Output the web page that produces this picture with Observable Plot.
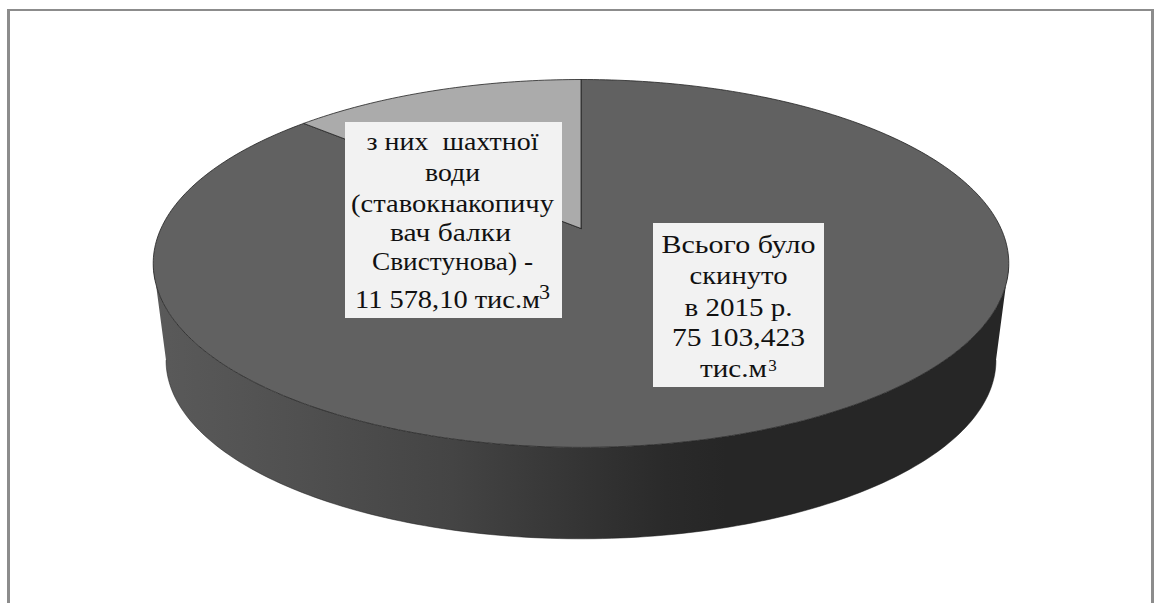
<!DOCTYPE html>
<html lang="uk">
<head>
<meta charset="utf-8">
<script src="https://cdn.jsdelivr.net/npm/d3@7"></script>
<script src="https://cdn.jsdelivr.net/npm/@observablehq/plot@0.6"></script>
<style>
  html, body { margin: 0; padding: 0; background: #fff; overflow: hidden; }
  #chart { position: relative; width: 1159px; height: 603px; }
  #chart svg { position: absolute; left: 0; top: 0; background: transparent; }
  #frame { position: absolute; left: 7px; top: 9px; width: 1147px; height: 594px;
           box-sizing: border-box; border: 3px solid #8c8c8c; border-top-width: 2px; border-bottom: 0; }
</style>
</head>
<body>
<div id="chart"><div id="frame"></div></div>
<script>
// Discharge volumes, thousand m³
const categories = ["Всього було скинуто в 2015 р.", "з них шахтної води"];
const volumes = [75103.423, 11578.10];

// Label text, line by line
const totalLines = ["Всього було", "скинуто", "в 2015 р.", "75 103,423", "тис.м"];
const mineLines = ["з них  шахтної", "води", "(ставокнакопичу", "вач балки", "Свистунова) -", "11 578,10 тис.м"];

// Chart space: one x unit and one y unit are the plan-view radius of the disc
const width = 1159, height = 603;
const unitX = 420, unitY = 177.3, originX = 580.5, originY = 228;
const tilt = 0.19, baseScale = 0.97, baseDrop = 0.5527;
const rad = Math.PI / 180;

// Perspective view of a point on the rim (angle clockwise from twelve o'clock)
const rimTop = (t) => {
  const k = 1 + tilt * Math.cos(t);
  return {x: Math.sin(t) / k, y: Math.cos(t) / k};
};
const rimBase = (t) => {
  const p = rimTop(t);
  return {x: baseScale * p.x, y: baseScale * p.y - baseDrop};
};
const sweep = (a0, a1, f) => {
  const n = Math.max(2, Math.ceil(Math.abs(a1 - a0) / rad));
  return d3.range(n + 1).map((i) => f(a0 + (a1 - a0) * i / n));
};

const arcs = d3.pie().sort(null).startAngle(0).endAngle(2 * Math.PI)(volumes);
const wedge = (a) => [{x: 0, y: 0}, ...sweep(a.startAngle, a.endAngle, rimTop), {x: 0, y: 0}];
const wedges = arcs.map(wedge);

// Visible front wall between the two silhouette points of the rim
const wallFrom = 101 * rad, wallTo = 259 * rad;
const wall = [...sweep(wallFrom, wallTo, rimTop), ...sweep(wallTo, wallFrom, rimBase)];
const wallEdge = sweep(wallFrom, wallTo, rimBase);

const sliceFill = ["#616161", "#ababab"];
const X = (px) => (px - originX) / unitX;
const Y = (px) => (originY - px) / unitY;

// Label plates and text placement (baseline, centre and set width of each line)
const plates = [
  {x1: X(345), x2: X(562), y1: Y(122), y2: Y(318)},
  {x1: X(653), x2: X(824), y1: Y(223), y2: Y(387)}
];
const mineLayout = [[149, 452, 172], [180, 452, 55], [211, 452, 203], [240, 450, 121], [269, 452, 161], [307, 447, 185]];
const totalLayout = [[252, 738, 154], [283, 738, 98], [315, 738, 108], [345, 738, 133], [376, 733, 67]];
const lineRows = (lines, layout) => lines.map((text, i) => ({
  text, x: X(layout[i][1]), y: Y(layout[i][0]), set: layout[i][2]
}));
const labelRows = [...lineRows(mineLines, mineLayout), ...lineRows(totalLines, totalLayout)];
const supers = [
  {text: "3", x: X(544), y: Y(298), size: 22},
  {text: "3", x: X(772), y: Y(370), size: 17}
];
const serif = "'Liberation Serif', 'Times New Roman', serif";

const chart = Plot.plot({
  width, height,
  margin: 0,
  style: {background: "transparent"},
  x: {axis: null, domain: [X(0), X(width)], range: [0, width]},
  y: {axis: null, domain: [Y(0), Y(height)], range: [0, height]},
  marks: [
    () => {
      const ns = "http://www.w3.org/2000/svg";
      const defs = document.createElementNS(ns, "defs");
      const grad = document.createElementNS(ns, "linearGradient");
      grad.setAttribute("id", "wallShade");
      [[0, "#5a5a5a"], [0.17, "#505050"], [0.35, "#444444"], [0.5, "#343434"],
       [0.6, "#2a2a2a"], [0.67, "#262626"], [1, "#262626"]].forEach(([o, c]) => {
        const s = document.createElementNS(ns, "stop");
        s.setAttribute("offset", o);
        s.setAttribute("stop-color", c);
        grad.appendChild(s);
      });
      defs.appendChild(grad);
      return defs;
    },
    Plot.line(wall, {x: "x", y: "y", fill: "url(#wallShade)", stroke: "none", curve: "linear"}),
    Plot.line(wallEdge, {x: "x", y: "y", stroke: "#1a1a1a", strokeWidth: 0.5, curve: "linear"}),
    wedges.map((w, i) =>
      Plot.line(w, {x: "x", y: "y", fill: sliceFill[i], stroke: "#222", strokeWidth: 0.8, curve: "linear",
                    title: () => categories[i]})),
    Plot.rect(plates, {x1: "x1", x2: "x2", y1: "y1", y2: "y2", fill: "#f2f2f2"}),
    Plot.text(labelRows, {
      x: "x", y: "y", text: "text", fontFamily: serif, fontSize: 25,
      fill: "#111", textAnchor: "middle", lineAnchor: "bottom",
      // Each line is set to its own width, glyphs stretched to fill it
      render(index, scales, values, dimensions, context, next) {
        const g = next(index, scales, values, dimensions, context);
        d3.select(g).selectAll("text").each(function (i) {
          this.setAttribute("textLength", labelRows[i].set);
          this.setAttribute("lengthAdjust", "spacingAndGlyphs");
        });
        return g;
      }
    }),
    Plot.text(supers, {x: "x", y: "y", text: "text", fontFamily: serif, fontSize: "size",
                       fill: "#111", textAnchor: "middle", lineAnchor: "bottom"})
  ]
});
document.getElementById("chart").appendChild(chart);
</script>
</body>
</html>
